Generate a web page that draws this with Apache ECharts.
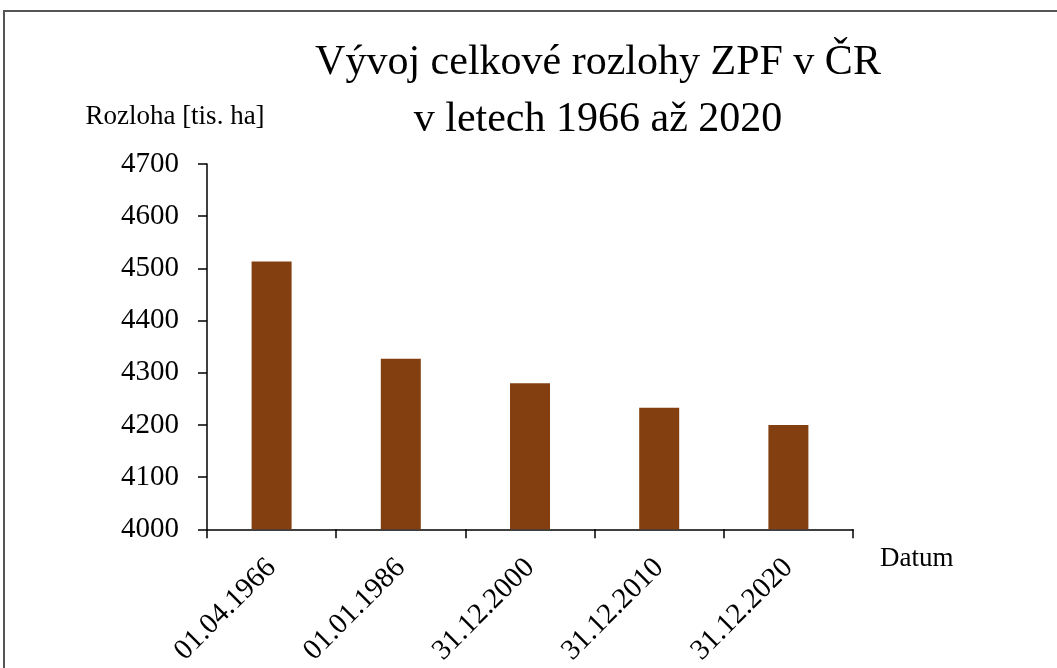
<!DOCTYPE html>
<html lang="cs">
<head>
    <meta charset="UTF-8">
    <title>Vývoj celkové rozlohy ZPF v ČR</title>
    <script src="https://cdn.jsdelivr.net/npm/echarts@6/dist/echarts.min.js"></script>
    <style>
        html, body { margin: 0; padding: 0; background: #fff; }
        #main { width: 1057px; height: 668px; }
    </style>
</head>
<body>
<div id="main"></div>
<script>
    // data
    var dates = ['01.04.1966', '01.01.1986', '31.12.2000', '31.12.2010', '31.12.2020'];
    var rozloha = [4513, 4327, 4280, 4233, 4200];
    var yMin = 4000, yMax = 4700, yStep = 100;

    var serif = '"Liberation Serif", "Times New Roman", serif';

    var myChart = echarts.init(document.getElementById('main'));

    myChart.setOption({
        animation: false,
        title: {
            text: 'Vývoj celkové rozlohy ZPF v ČR\nv letech 1966 až 2020',
            left: 593,
            top: 29,
            textAlign: 'center',
            textStyle: {
                fontFamily: serif,
                fontSize: 42,
                fontWeight: 'normal',
                lineHeight: 57,
                color: '#000'
            }
        },
        graphic: [{
            type: 'polyline',
            shape: { points: [[4, 668], [4, 11], [1057, 11]] },
            style: { stroke: '#555', lineWidth: 2, fill: null }
        }],
        grid: { left: 207, right: 204, top: 164, bottom: 138 },
        xAxis: {
            type: 'category',
            data: dates,
            name: 'Datum',
            nameLocation: 'end',
            nameGap: 27,
            nameTextStyle: {
                fontFamily: serif, fontSize: 27, color: '#000',
                align: 'left', verticalAlign: 'top', padding: [16, 0, 0, 0]
            },
            axisLine: { lineStyle: { color: '#000', width: 1.5 } },
            axisTick: { show: true, length: 9, lineStyle: { color: '#000', width: 1.5 } },
            axisLabel: {
                rotate: 45, margin: 34, color: '#000',
                fontFamily: serif, fontSize: 29
            }
        },
        yAxis: {
            type: 'value',
            min: yMin, max: yMax, interval: yStep,
            name: 'Rozloha [tis. ha]',
            nameLocation: 'end',
            nameGap: 47,
            nameTextStyle: {
                fontFamily: serif, fontSize: 27, color: '#000',
                align: 'center', verticalAlign: 'middle', padding: [0, 64, 0, 0]
            },
            splitLine: { show: false },
            axisLine: { show: true, lineStyle: { color: '#000', width: 1.5 } },
            axisTick: { show: true, length: 9, lineStyle: { color: '#000', width: 1.5 } },
            axisLabel: {
                margin: 28, color: '#000',
                fontFamily: serif, fontSize: 29,
                formatter: function (v) { return String(v); }
            }
        },
        series: [{
            type: 'bar',
            data: rozloha,
            barWidth: 40,
            itemStyle: { color: '#843F10' }
        }]
    });
</script>
</body>
</html>
